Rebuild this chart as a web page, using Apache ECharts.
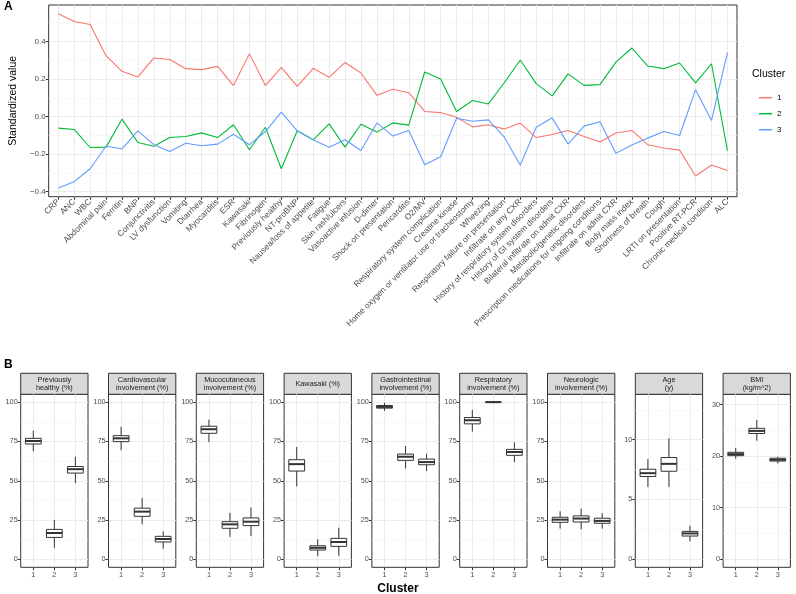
<!DOCTYPE html>
<html>
<head>
<meta charset="utf-8">
<title>Cluster profiles</title>
<script src="https://cdn.jsdelivr.net/npm/echarts@6/dist/echarts.min.js"></script>
</head>
<body style="margin:0">
<div id="main" style="width:796px;height:594px;"></div>
<script>
// panel A: standardized values per feature
var features = ['CRP', 'ANC', 'WBC', 'Abdominal pain', 'Ferritin', 'BNP', 'Conjunctivitis', 'LV dysfunction',
  'Vomiting', 'Diarrhea', 'Myocarditis', 'ESR', 'Kawasaki', 'Fibrinogen', 'Previously healthy', 'NT-proBNP',
  'Nausea/loss of appetite', 'Fatigue', 'Skin rash/ulcers', 'Vasoactive infusion', 'D-dimer', 'Shock on presentation',
  'Pericarditis', 'O2/MV', 'Respiratory system complication', 'Creatine kinase',
  'Home oxygen or ventilator use or tracheostomy', 'Wheezing', 'Respiratory failure on presentation',
  'Infiltrate on any CXR', 'History of respiratory system disorders', 'History of GI system disorders',
  'Bilateral infiltrate on admit CXR', 'Metabolic/genetic disorders', 'Prescription medications for ongoing conditions',
  'Infiltrate on admit CXR', 'Body mass index', 'Shortness of breath', 'Cough', 'LRTI on presentation',
  'Positive RT-PCR', 'Chronic medical condition', 'ALC'];
var cluster1 = [0.547, 0.506, 0.490, 0.324, 0.241, 0.211, 0.312, 0.304, 0.255, 0.250, 0.267, 0.165, 0.335, 0.165,
  0.262, 0.161, 0.257, 0.209, 0.288, 0.232, 0.113, 0.145, 0.127, 0.027, 0.021, -0.004, -0.055, -0.044, -0.067,
  -0.035, -0.112, -0.096, -0.074, -0.106, -0.136, -0.088, -0.074, -0.150, -0.168, -0.179, -0.317, -0.258, -0.288];
var cluster2 = [-0.062, -0.069, -0.165, -0.163, -0.014, -0.138, -0.158, -0.112, -0.106, -0.087, -0.112, -0.044, -0.177,
  -0.057, -0.278, -0.076, -0.124, -0.039, -0.163, -0.041, -0.083, -0.034, -0.046, 0.237, 0.200, 0.027, 0.085, 0.067,
  0.181, 0.301, 0.175, 0.110, 0.227, 0.166, 0.170, 0.290, 0.365, 0.269, 0.255, 0.285, 0.179, 0.281, -0.182];
var cluster3 = [-0.381, -0.347, -0.278, -0.158, -0.172, -0.076, -0.150, -0.186, -0.142, -0.156, -0.147, -0.094, -0.150,
  -0.080, 0.023, -0.076, -0.124, -0.163, -0.124, -0.181, -0.034, -0.104, -0.074, -0.257, -0.214, -0.009, -0.025,
  -0.018, -0.110, -0.260, -0.057, -0.007, -0.147, -0.051, -0.028, -0.195, -0.152, -0.115, -0.080, -0.101, 0.143,
  -0.021, 0.340];
var yTicksA = [-0.4, -0.2, 0, 0.2, 0.4];
var yMinorA = [-0.3, -0.1, 0.1, 0.3, 0.5];

// panel B: box stats [min, q1, median, q3, max] for clusters 1, 2, 3
var clusters = [1, 2, 3];
var boxPrevHealthy = [[68.7, 73.4, 75.3, 77.0, 81.9], [7.4, 14.0, 16.8, 19.1, 25.1], [48.5, 54.9, 57.4, 59.1, 65.3]];
var boxCardio = [[69.4, 74.9, 77.0, 78.7, 84.3], [22.3, 27.4, 30.4, 32.6, 39.1], [6.8, 11.1, 13.0, 14.7, 17.9]];
var boxMucocut = [[74.5, 80.2, 82.8, 84.7, 88.9], [14.3, 19.8, 22.3, 24.0, 29.6], [14.9, 21.5, 24.0, 26.4, 33.0]];
var boxKawasaki = [[46.4, 56.2, 60.6, 63.4, 71.5], [2.1, 6.0, 7.4, 8.7, 12.8], [2.3, 8.3, 11.1, 13.4, 20.2]];
var boxGI = [[94.5, 96.2, 97.0, 97.9, 99.6], [57.9, 63.0, 65.3, 67.0, 72.1], [56.2, 60.2, 61.9, 63.8, 67.2]];
var boxResp = [[81.3, 86.2, 88.5, 90.2, 95.1], [100, 100, 100, 100, 100], [61.9, 66.2, 68.3, 70.0, 74.5]];
var boxNeuro = [[19.6, 23.6, 25.3, 26.8, 30.6], [19.1, 23.8, 26.0, 27.7, 32.3], [19.6, 23.0, 24.5, 26.2, 29.4]];
var boxAge = [[6.02, 6.91, 7.19, 7.52, 8.38], [6.04, 7.35, 7.97, 8.50, 10.11], [1.48, 1.92, 2.14, 2.31, 2.79]];
var boxBMI = [[19.5, 20.1, 20.4, 20.75, 21.6], [23.0, 24.4, 24.9, 25.4, 27.0], [18.6, 19.05, 19.3, 19.6, 19.9]];
var pctTicks = [0, 25, 50, 75, 100];
var pctMinor = [12.5, 37.5, 62.5, 87.5];
var ageTicks = [0, 5, 10];
var ageMinor = [2.5, 7.5, 12.5];
var bmiTicks = [0, 10, 20, 30];
var bmiMinor = [5, 15, 25];

var panels = [
  {title: 'Previously\nhealthy (%)', box: boxPrevHealthy, ticks: pctTicks, minor: pctMinor, min: -5, max: 105},
  {title: 'Cardiovascular\ninvolvement (%)', box: boxCardio, ticks: pctTicks, minor: pctMinor, min: -5, max: 105},
  {title: 'Mucocutaneous\ninvolvement (%)', box: boxMucocut, ticks: pctTicks, minor: pctMinor, min: -5, max: 105},
  {title: 'Kawasaki (%)', box: boxKawasaki, ticks: pctTicks, minor: pctMinor, min: -5, max: 105},
  {title: 'Gastrointestinal\ninvolvement (%)', box: boxGI, ticks: pctTicks, minor: pctMinor, min: -5, max: 105},
  {title: 'Respiratory\ninvolvement (%)', box: boxResp, ticks: pctTicks, minor: pctMinor, min: -5, max: 105},
  {title: 'Neurologic\ninvolvement (%)', box: boxNeuro, ticks: pctTicks, minor: pctMinor, min: -5, max: 105},
  {title: 'Age\n(y)', box: boxAge, ticks: ageTicks, minor: ageMinor, min: -0.7, max: 13.8},
  {title: 'BMI\n(kg/m^2)', box: boxBMI, ticks: bmiTicks, minor: bmiMinor, min: -1.55, max: 32}
];

var colors = ['#F8766D', '#00BA38', '#619CFF'];
var font = 'Liberation Sans, Arial, Helvetica, sans-serif';
var dark = '#333333';
var gridCol = '#EBEBEB';
var minorCol = '#F4F4F4';

function minorLines(vals) {
  return {
    silent: true, symbol: 'none', z: 1, animation: false,
    label: {show: false},
    lineStyle: {color: minorCol, width: 0.6, type: 'solid'},
    data: vals.map(function (v) { return {yAxis: v}; })
  };
}

function fmtNum(v) {
  var s = (Math.round(v * 10) / 10).toFixed(1);
  return s.replace('-', '\u2212');
}

var featureIdx = features.map(function (f, i) { return i; });

var grids = [{left: 39, right: 59, top: 5, height: 191.7, show: true, borderColor: dark, borderWidth: 1}];
var xAxes = [{
  type: 'value', gridIndex: 0, min: -0.6, max: 42.6, minInterval: 1, maxInterval: 1,
  axisLine: {show: false, onZero: false},
  axisTick: {show: true, length: 3, lineStyle: {color: dark}, customValues: featureIdx},
  splitLine: {show: true, lineStyle: {color: gridCol, width: 1}},
  axisLabel: {
    rotate: 45, margin: 4, fontSize: 8.4, color: '#4D4D4D', fontFamily: font,
    customValues: featureIdx,
    formatter: function (v) { return Number.isInteger(v) && features[v] ? features[v] : ''; }
  }
}];
var yAxes = [{
  type: 'value', gridIndex: 0, min: -0.427, max: 0.594, minInterval: 0.2, maxInterval: 0.2,
  name: 'Standardized value', nameLocation: 'middle', nameGap: 29, nameRotate: 90,
  nameTextStyle: {fontSize: 10.5, color: '#000', fontFamily: font},
  axisLine: {show: false, onZero: false},
  axisTick: {show: true, length: 3, lineStyle: {color: dark}, customValues: yTicksA},
  splitLine: {show: true, lineStyle: {color: gridCol, width: 1}},
  axisLabel: {
    fontSize: 8, color: '#4D4D4D', margin: 3, fontFamily: font,
    customValues: yTicksA,
    formatter: fmtNum
  }
}];

var series = [
  {name: '1', type: 'line', xAxisIndex: 0, yAxisIndex: 0, showSymbol: false, z: 3,
   lineStyle: {width: 1.1, color: colors[0]}, itemStyle: {color: colors[0]},
   data: cluster1.map(function (v, i) { return [i, v]; }),
   markLine: minorLines(yMinorA)},
  {name: '2', type: 'line', xAxisIndex: 0, yAxisIndex: 0, showSymbol: false, z: 3,
   lineStyle: {width: 1.1, color: colors[1]}, itemStyle: {color: colors[1]},
   data: cluster2.map(function (v, i) { return [i, v]; })},
  {name: '3', type: 'line', xAxisIndex: 0, yAxisIndex: 0, showSymbol: false, z: 3,
   lineStyle: {width: 1.1, color: colors[2]}, itemStyle: {color: colors[2]},
   data: cluster3.map(function (v, i) { return [i, v]; })}
];

function renderBox(params, api) {
  var x = api.value(0);
  var lo = api.coord([x, api.value(1)]);
  var q1 = api.coord([x, api.value(2)]);
  var med = api.coord([x, api.value(3)]);
  var q3 = api.coord([x, api.value(4)]);
  var hi = api.coord([x, api.value(5)]);
  var w = api.size([0.75, 0])[0];
  var line = {stroke: dark, lineWidth: 1};
  return {type: 'group', children: [
    {type: 'line', shape: {x1: lo[0], y1: lo[1], x2: q1[0], y2: q1[1]}, style: line},
    {type: 'line', shape: {x1: q3[0], y1: q3[1], x2: hi[0], y2: hi[1]}, style: line},
    {type: 'rect', shape: {x: q3[0] - w / 2, y: q3[1], width: w, height: q1[1] - q3[1]},
     style: {fill: '#ffffff', stroke: dark, lineWidth: 1}},
    {type: 'line', shape: {x1: med[0] - w / 2, y1: med[1], x2: med[0] + w / 2, y2: med[1]},
     style: {stroke: dark, lineWidth: 2}}
  ]};
}

var graphics = [
  {type: 'text', left: 4, top: 1, style: {text: 'A', font: 'bold 12px ' + font, fill: '#000'}},
  {type: 'text', left: 4, top: 359, style: {text: 'B', font: 'bold 12px ' + font, fill: '#000'}},
  {type: 'text', left: 752, top: 69, style: {text: 'Cluster', font: '10.5px ' + font, fill: '#000'}},
  {type: 'text', x: 398, y: 589, style: {text: 'Cluster', font: 'bold 12px ' + font, fill: '#000',
    textAlign: 'center', textVerticalAlign: 'middle'}}
];

var panelLeft0 = 20.7, panelStep = 87.8, panelW = 67.3, panelTop = 394.3, panelH = 173, stripTop = 373.3;
panels.forEach(function (p, k) {
  var gi = k + 1;
  var left = panelLeft0 + k * panelStep;
  grids.push({left: left, width: panelW, top: panelTop, height: panelH, show: true, borderColor: dark, borderWidth: 1});
  xAxes.push({
    type: 'value', gridIndex: gi, min: 0.4, max: 3.6, minInterval: 1, maxInterval: 1,
    axisLine: {show: false, onZero: false},
    axisTick: {show: true, length: 3, lineStyle: {color: dark}, customValues: clusters},
    splitLine: {show: true, lineStyle: {color: gridCol, width: 1}},
    axisLabel: {fontSize: 7.3, color: '#4D4D4D', margin: 4, fontFamily: font,
      customValues: clusters,
      formatter: function (v) { return Number.isInteger(v) ? String(v) : ''; }}
  });
  var step = p.ticks[1] - p.ticks[0];
  yAxes.push({
    type: 'value', gridIndex: gi, min: p.min, max: p.max, minInterval: step, maxInterval: step,
    axisLine: {show: false, onZero: false},
    axisTick: {show: true, length: 3, lineStyle: {color: dark}, customValues: p.ticks},
    splitLine: {show: true, lineStyle: {color: gridCol, width: 1}},
    axisLabel: {fontSize: 7.3, color: '#4D4D4D', margin: 3, fontFamily: font,
      customValues: p.ticks,
      formatter: function (v) { return String(v); }}
  });
  series.push({
    type: 'custom', xAxisIndex: gi, yAxisIndex: gi, z: 3,
    renderItem: renderBox,
    encode: {x: 0, y: [1, 2, 3, 4, 5]},
    data: p.box.map(function (b, i) { return [clusters[i]].concat(b); }),
    markLine: minorLines(p.minor)
  });
  graphics.push({type: 'rect', shape: {x: left, y: stripTop, width: panelW, height: panelTop - stripTop},
    style: {fill: '#D9D9D9', stroke: dark, lineWidth: 1}});
  graphics.push({type: 'text', x: left + panelW / 2, y: (stripTop + panelTop) / 2 + 0.5,
    style: {text: p.title, font: '7.3px ' + font, fill: '#1A1A1A', textAlign: 'center',
      textVerticalAlign: 'middle', lineHeight: 8}});
});

var chart = echarts.init(document.getElementById('main'));
chart.setOption({
  animation: false,
  textStyle: {fontFamily: font},
  grid: grids,
  xAxis: xAxes,
  yAxis: yAxes,
  legend: {
    data: ['1', '2', '3'], orient: 'vertical', left: 754, top: 87.7,
    icon: 'rect', itemWidth: 13, itemHeight: 1.5, itemGap: 6,
    textStyle: {fontSize: 8, color: '#000', lineHeight: 10, fontFamily: font}
  },
  graphic: graphics,
  series: series
});
</script>
</body>
</html>
